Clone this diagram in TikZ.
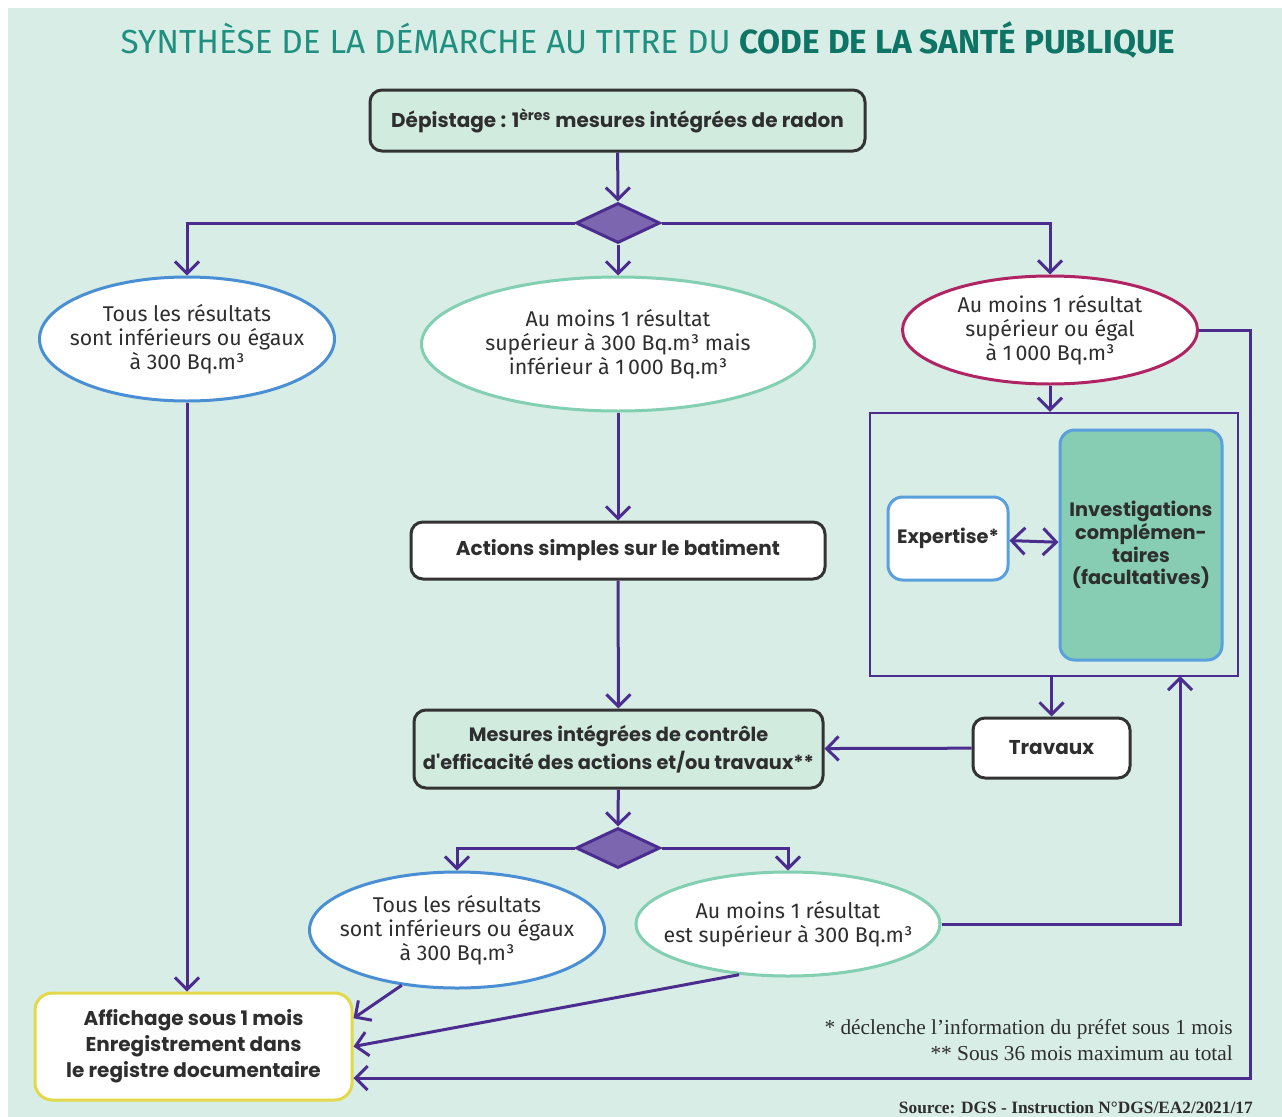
\documentclass[tikz,border=0pt]{standalone}
\usepackage{fontspec}
\setmainfont{Fira Sans}
\newfontfamily\boxfont{Poppins}
\newfontfamily\notefont{Liberation Serif}
\usetikzlibrary{shapes.geometric,arrows.meta}
\usepackage{xcolor}
\definecolor{bgmint}{HTML}{D8EDE5}
\definecolor{boxmint}{HTML}{D2EBDF}
\definecolor{violetline}{HTML}{4B2D8F}
\definecolor{violetfill}{HTML}{7C66B0}
\definecolor{titleteal}{HTML}{1F9080}
\definecolor{titledark}{HTML}{0E7466}
\definecolor{resblue}{HTML}{4A8FD4}
\definecolor{resgreen}{HTML}{82CFB2}
\definecolor{rescrimson}{HTML}{B02463}
\definecolor{invfill}{HTML}{86CDB4}
\definecolor{boxblue}{HTML}{5AA0DC}
\definecolor{affyellow}{HTML}{E3D84A}
\definecolor{darkline}{HTML}{333333}
\definecolor{txtgray}{HTML}{2E2E2E}
\newcommand{\px}{0.75pt}
\tikzset{
	flow/.style={draw=violetline, line width=2.25pt, -{Straight Barb[length=9pt,width=18pt]}},
	twoway/.style={draw=violetline, line width=2.25pt, {Straight Barb[length=10pt,width=20pt]}-{Straight Barb[length=10pt,width=20pt]}},
	choice/.style={diamond, draw=violetline, fill=violetfill, line width=2.25pt, inner sep=0pt, minimum width=84*\px, minimum height=40*\px},
	result/.style={ellipse, fill=white, line width=2.25pt, inner sep=0pt},
	restext/.style={align=center, text=txtgray, font=\fontsize{16}{18}\selectfont},
	stepbox/.style={rectangle, rounded corners=9pt, draw=darkline, line width=2.25pt, align=center, text=txtgray, font=\boxfont\bfseries\fontsize{15}{21}\selectfont},
	sidebox/.style={rectangle, rounded corners=11pt, draw=boxblue, line width=2.25pt, align=center, text=txtgray, font=\boxfont\bfseries\fontsize{14.5}{17}\selectfont}
}
\begin{document}
\begin{tikzpicture}[x=\px, y=-\px]

	\useasboundingbox (0,0) rectangle (1282,1117);
	\fill[white] (0,0) rectangle (1282,1117);
	\fill[bgmint] (8,8) rectangle (1282,1117);

	\node[text=titleteal, font=\fontsize{25}{28}\selectfont] (titre) at (648,40) {SYNTHÈSE DE LA DÉMARCHE AU TITRE DU \textcolor{titledark}{\bfseries CODE DE LA SANTÉ PUBLIQUE}};

	% premier niveau
	\node[stepbox, fill=boxmint, minimum width=495*\px, minimum height=61*\px] (depist) at (617.5,120.5) {Dépistage : 1\textsuperscript{ères} mesures intégrées de radon};
	\node[choice] (dia1) at (618,223) {};

	\node[result, draw=resblue, minimum width=295*\px, minimum height=124*\px,
		label={[restext]center:Tous les résultats\\sont inférieurs ou égaux\\à 300 Bq.m³}] (ellA) at (187,339) {};
	\node[result, draw=resgreen, minimum width=393*\px, minimum height=134*\px,
		label={[restext]center:Au moins 1 résultat\\supérieur à 300 Bq.m³ mais\\inférieur à 1\,000 Bq.m³}] (ellB) at (618,344) {};
	\node[result, draw=rescrimson, minimum width=295*\px, minimum height=108*\px,
		label={[restext]center:Au moins 1 résultat\\supérieur ou égal\\à 1\,000 Bq.m³}] (ellC) at (1050,330) {};

	% cadre de droite
	\node[draw=violetline, line width=1.8pt, minimum width=368*\px, minimum height=263*\px] (frame) at (1054,544.5) {};
	\node[sidebox, fill=white, minimum width=120*\px, minimum height=83*\px] (expert) at (948,538.5) {Expertise*};
	\node[sidebox, fill=invfill, inner xsep=1pt, minimum width=162*\px, minimum height=230*\px] (invest) at (1141,545) {Investigations\\complémen-\\taires\\(facultatives)};
	\node[stepbox, fill=white, minimum width=157*\px, minimum height=60*\px] (travaux) at (1051.5,748) {Travaux};

	% colonne centrale
	\node[stepbox, fill=white, minimum width=414*\px, minimum height=57*\px] (actions) at (618,550.5) {Actions simples sur le batiment};
	\node[stepbox, fill=boxmint, inner xsep=1pt, minimum width=409*\px, minimum height=78*\px,
		font=\boxfont\bfseries\fontsize{14.5}{21}\selectfont] (mesures) at (618.5,749) {Mesures intégrées de contrôle\\d'efficacité des actions et/ou travaux**};
	\node[choice] (dia2) at (618,848) {};

	\node[result, draw=resblue, minimum width=295*\px, minimum height=116*\px,
		label={[restext]center:Tous les résultats\\sont inférieurs ou égaux\\à 300 Bq.m³}] (ellD) at (457,930) {};
	\node[result, draw=resgreen, minimum width=304*\px, minimum height=104*\px,
		label={[restext]center:Au moins 1 résultat\\est supérieur à 300 Bq.m³}] (ellE) at (788,924) {};

	\node[stepbox, fill=white, draw=affyellow, rounded corners=13pt, minimum width=317*\px, minimum height=107*\px,
		font=\boxfont\bfseries\fontsize{15}{19.5}\selectfont] (affich) at (193.5,1046.5) {Affichage sous 1 mois\\Enregistrement dans\\le registre documentaire};

	\node[anchor=east, align=right, inner sep=0pt, text=txtgray, font=\notefont\fontsize{16}{19.5}\selectfont] (notes) at (1233,1040) {* déclenche l’information du préfet sous 1 mois\\** Sous 36 mois maximum au total};
	\node[anchor=east, inner sep=0pt, text=txtgray, font=\notefont\bfseries\fontsize{13}{14}\selectfont] (source) at (1253,1108) {Source: DGS - Instruction N°DGS/EA2/2021/17};

	\coordinate (cR) at (1250,1078);
	\coordinate (cI) at (1180,676);

	% connecteurs
	\draw[flow] (depist) -- (dia1);
	\draw[flow] (dia1.west) -| (ellA.north);
	\draw[flow] (dia1) -- (ellB);
	\draw[flow] (dia1.east) -| (ellC.north);
	\draw[flow] (ellC.south) -- (ellC.south |- frame.north);
	\draw[flow] (ellC.east) -| (cR) -- (affich.east |- cR);
	\draw[twoway] (expert) -- (invest);
	\draw[flow] (travaux.north |- frame.south) -- (travaux);
	\draw[flow] (travaux) -- (mesures);
	\draw[flow] (ellB) -- (actions);
	\draw[flow] (actions) -- (mesures);
	\draw[flow] (mesures) -- (dia2);
	\draw[flow] (dia2.west) -| (ellD.north);
	\draw[flow] (dia2.east) -| (ellE.north);
	\draw[flow] (ellE.east) -| (cI);
	\draw[flow] (ellA.south) -- (ellA.south |- affich.north);
	\draw[flow] (ellD.225) -- (affich.10);
	\draw[flow] (ellE.226) -- (affich.east);

\end{tikzpicture}
\end{document}
